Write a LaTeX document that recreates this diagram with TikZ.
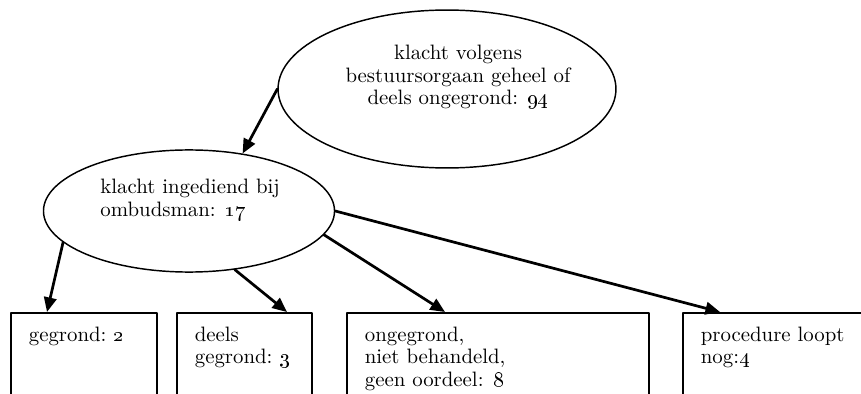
\documentclass[tikz,border=0pt]{standalone}
\usetikzlibrary{shapes.geometric,arrows.meta,calc}
\tikzset{
  bubble/.style={draw, ellipse, line width=0.7pt, inner sep=0pt},
  bubbletext/.style={inner sep=0pt},
  verdict/.style={draw, line width=0.9pt, anchor=north west, align=left,
    inner xsep=8.6pt, inner ysep=6.5pt, text height=7pt, text depth=60pt},
  flow/.style={line width=1.3pt, -{Triangle[length=7pt,width=6pt]}},
}
\begin{document}
\begin{tikzpicture}[x=0.48pt, y=-0.48pt, line cap=round, line join=round,
    font=\fontsize{10}{10.8}\selectfont]
  \useasboundingbox (0,0) rectangle (861,394);
  \clip (0,0) rectangle (861,394);
  % the two ellipses
  \node[bubble, minimum width=162.2pt, minimum height=75.8pt] (klacht) at (447,89) {};
  \node[bubbletext, align=center] (klachttxt) at (458,77)
    {klacht volgens\\ bestuursorgaan geheel of\\ deels ongegrond: \oldstylenums{94}};
  \node[bubble, minimum width=139.7pt, minimum height=58.6pt] (ombudsman) at (189,211) {};
  \node[bubbletext, align=left, anchor=west] (ombudsmantxt) at (100,200)
    {klacht ingediend bij\\ ombudsman: \oldstylenums{17}};
  % outcome boxes (run off the bottom)
  \node[verdict, text width=52.8pt] (gegrond) at (10,312) {gegrond:~\oldstylenums{2}};
  \node[verdict, text width=47.6pt] (deels) at (176,312) {deels\\ gegrond:~\oldstylenums{3}};
  \node[verdict, text width=127.8pt] (ongegrond) at (346,312)
    {ongegrond,\\ niet behandeld,\\ geen oordeel: \oldstylenums{8}};
  \node[verdict, text width=100pt] (loopt) at (682,312) {procedure~loopt\\ nog:\oldstylenums{4}};
  % arrows
  \draw[flow] (klacht.west) -- (ombudsman.47);
  \draw[flow] (ombudsman.194) -- ($(gegrond.north west)+(37,0)$);
  \draw[flow] (ombudsman.308) -- ($(deels.north west)+(111,0)$);
  \draw[flow] (ombudsman.350) -- ($(ongegrond.north west)+(99,0)$);
  \draw[flow] (ombudsman.east) -- ($(loopt.north west)+(38,0)$);
\end{tikzpicture}
\end{document}
